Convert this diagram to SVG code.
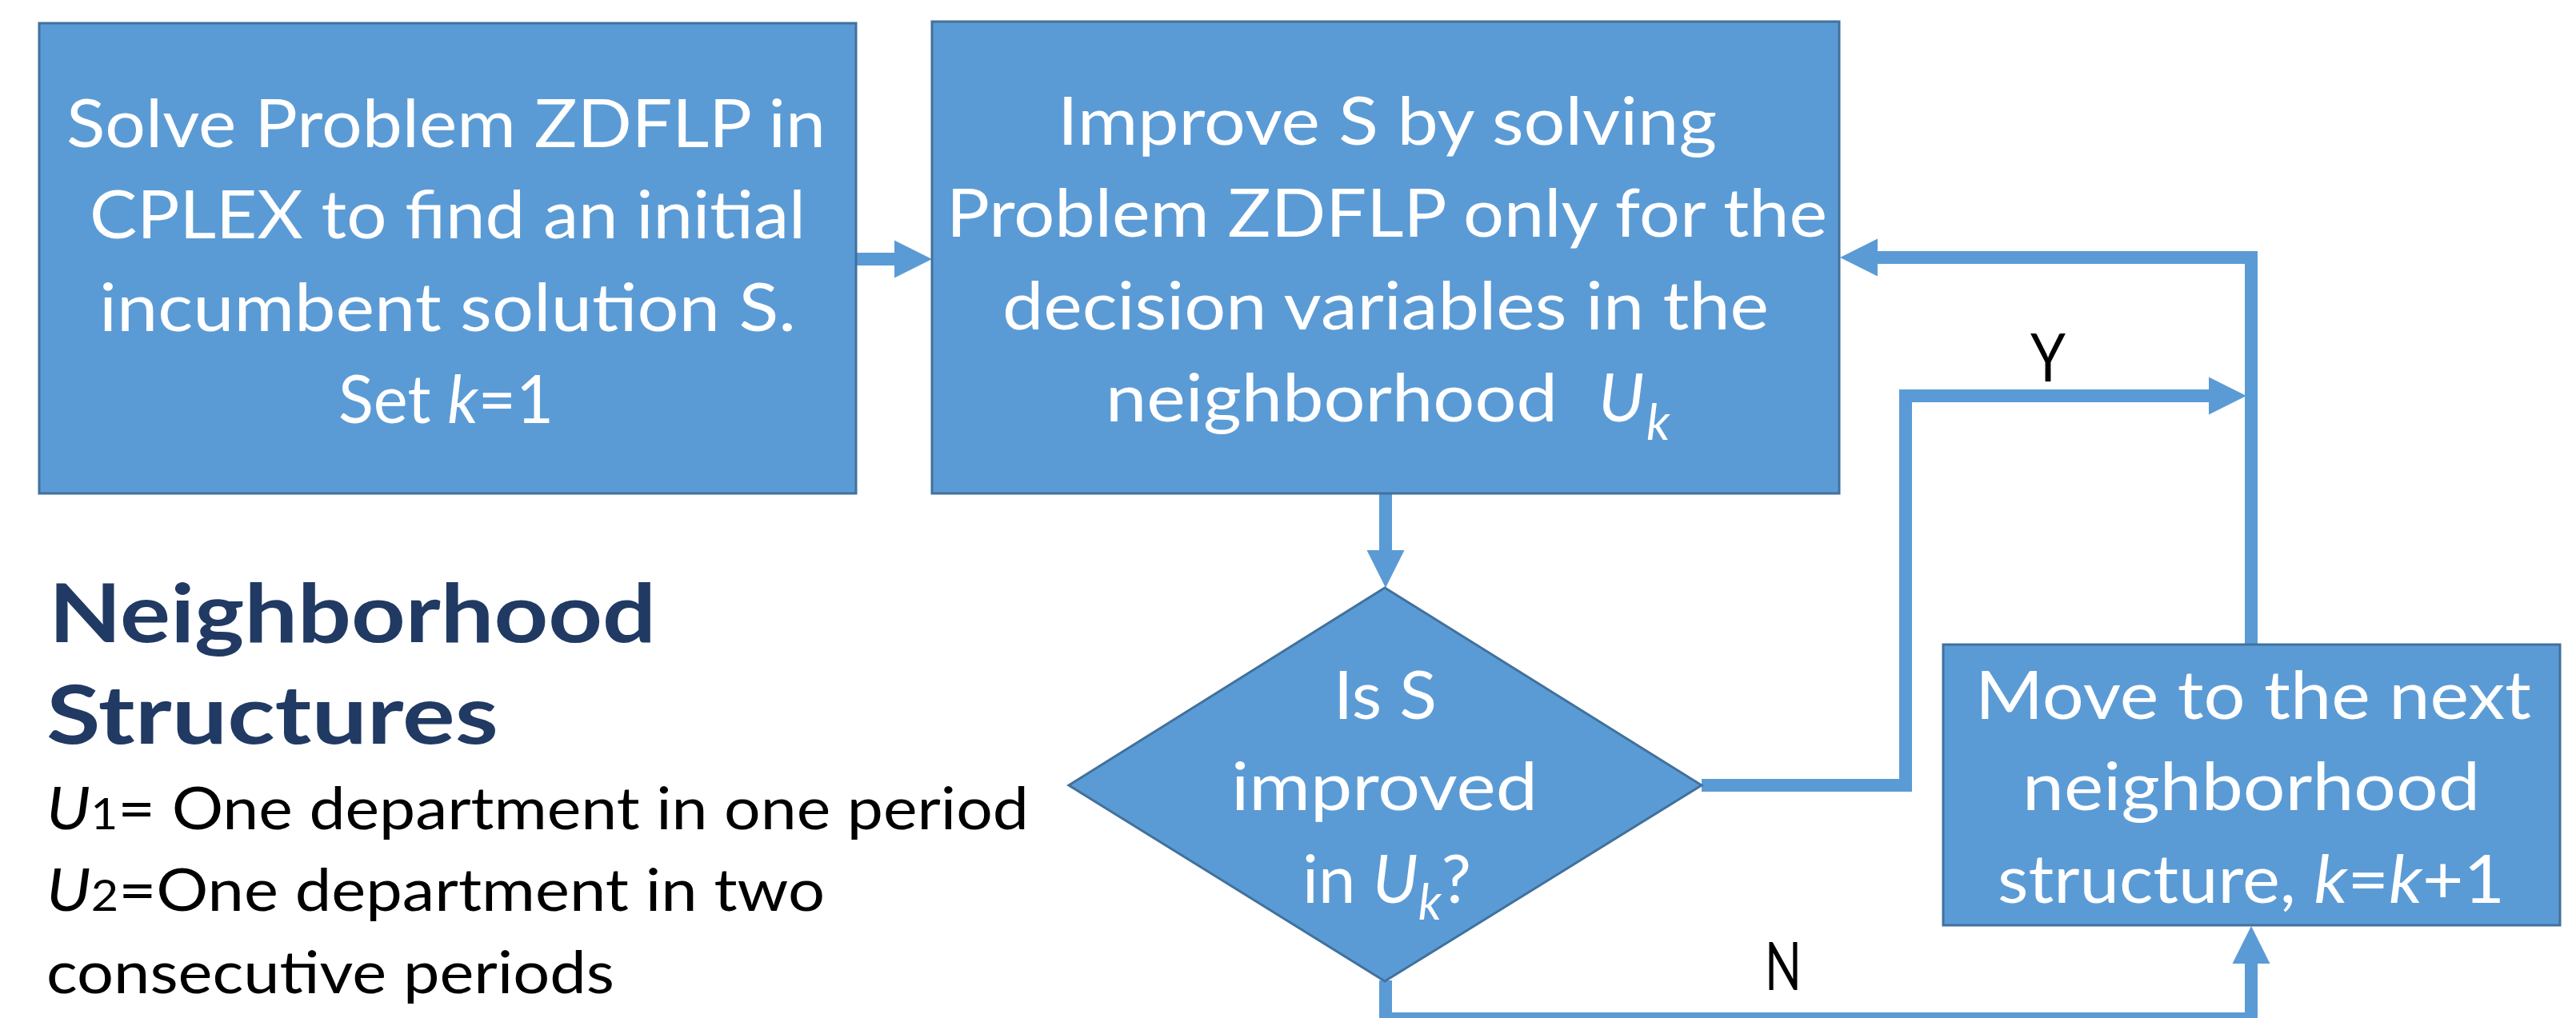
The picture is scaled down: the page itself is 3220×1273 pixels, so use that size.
<svg xmlns="http://www.w3.org/2000/svg" width="3220" height="1273" viewBox="0 0 3220 1273">
<style>
.box{fill:#5B9BD5;stroke:#41719C;stroke-width:3}
.conn{fill:none;stroke:#5B9BD5;stroke-width:16;stroke-linejoin:miter;stroke-linecap:butt}
.bt{font-family:Lato,"Liberation Sans",sans-serif;font-size:84px;fill:#FFFFFF;text-anchor:start}
.lg{font-family:Lato,"Liberation Sans",sans-serif;font-size:74px;fill:#000000}
.hd{font-family:Lato,"Liberation Sans",sans-serif;font-size:102px;font-weight:bold;fill:#213A63}
.lb{font-family:Lato,"Liberation Sans",sans-serif;font-size:84px;fill:#000000}
.it{font-style:italic}
</style>
<defs>
<marker id="ah" markerUnits="userSpaceOnUse" markerWidth="48" markerHeight="48" viewBox="0 -24 47 48" refX="0" refY="0" orient="auto">
<path d="M0,-23.5 L47,0 L0,23.5 z" fill="#5B9BD5"/>
</marker>
</defs>
<rect width="3220" height="1273" fill="#FFFFFF"/>

<g id="connectors">
<path class="conn" d="M1069,324 H1118" marker-end="url(#ah)"/>
<path class="conn" d="M1732,617 V688" marker-end="url(#ah)"/>
<path class="conn" d="M2127,982 H2382 V495 H2761" marker-end="url(#ah)"/>
<path class="conn" d="M2814,806 V322 H2347" marker-end="url(#ah)"/>
<path class="conn" d="M1732,1226 V1274 H2814 V1205" marker-end="url(#ah)"/>
<text class="lb" x="2538" y="477" textLength="44" lengthAdjust="spacingAndGlyphs">Y</text>
<text class="lb" x="2206" y="1238" textLength="46" lengthAdjust="spacingAndGlyphs">N</text>
</g>

<g id="node-init">
<rect class="box" x="49" y="29" width="1021" height="588"/>
<text class="bt" x="83" y="184" textLength="949" lengthAdjust="spacingAndGlyphs">Solve Problem ZDFLP in</text>
<text class="bt" x="112" y="298" textLength="895" lengthAdjust="spacingAndGlyphs">CPLEX to find an initial</text>
<text class="bt" x="124" y="414" textLength="871" lengthAdjust="spacingAndGlyphs">incumbent solution S.</text>
<text class="bt" x="423" y="529" textLength="269" lengthAdjust="spacingAndGlyphs">Set <tspan class="it">k</tspan>=1</text>
</g>

<g id="node-improve">
<rect class="box" x="1165" y="27" width="1134" height="590"/>
<text class="bt" x="1322" y="181" textLength="824" lengthAdjust="spacingAndGlyphs">Improve S by solving</text>
<text class="bt" x="1183" y="296" textLength="1101" lengthAdjust="spacingAndGlyphs">Problem ZDFLP only for the</text>
<text class="bt" x="1253" y="412" textLength="958" lengthAdjust="spacingAndGlyphs">decision variables in the</text>
<text class="bt" x="1382" y="527" textLength="565" lengthAdjust="spacingAndGlyphs">neighborhood</text>
<text class="bt it" x="1998" y="527">U</text>
<text class="bt it" x="2058" y="550" style="font-size:62px">k</text>
</g>

<g id="node-decision">
<polygon class="box" points="1731,735 2127,982 1731,1227 1336,982"/>
<text class="bt" x="1667" y="899" textLength="129" lengthAdjust="spacingAndGlyphs">Is S</text>
<text class="bt" x="1539" y="1013" textLength="383" lengthAdjust="spacingAndGlyphs">improved</text>
<text class="bt" x="1628" y="1129" textLength="211" lengthAdjust="spacingAndGlyphs">in <tspan class="it">U</tspan><tspan class="it" style="font-size:62px" dy="21">k</tspan><tspan dy="-21">?</tspan></text>
</g>

<g id="node-next">
<rect class="box" x="2429" y="806" width="771" height="351"/>
<text class="bt" x="2469" y="899" textLength="695" lengthAdjust="spacingAndGlyphs">Move to the next</text>
<text class="bt" x="2528" y="1013" textLength="572" lengthAdjust="spacingAndGlyphs">neighborhood</text>
<text class="bt" x="2497" y="1129" textLength="634" lengthAdjust="spacingAndGlyphs">structure, <tspan class="it">k</tspan>=<tspan class="it">k</tspan>+1</text>
</g>

<g id="legend">
<text class="hd" x="61" y="803" textLength="759" lengthAdjust="spacingAndGlyphs">Neighborhood</text>
<text class="hd" x="58" y="930" textLength="565" lengthAdjust="spacingAndGlyphs">Structures</text>
<text class="lg" x="58" y="1037" textLength="1228" lengthAdjust="spacingAndGlyphs"><tspan class="it">U</tspan><tspan style="font-size:54px">1</tspan>= One department in one period</text>
<text class="lg" x="58" y="1139" textLength="973" lengthAdjust="spacingAndGlyphs"><tspan class="it">U</tspan><tspan style="font-size:54px">2</tspan>=One department in two</text>
<text class="lg" x="58" y="1242" textLength="710" lengthAdjust="spacingAndGlyphs">consecutive periods</text>
</g>
</svg>
